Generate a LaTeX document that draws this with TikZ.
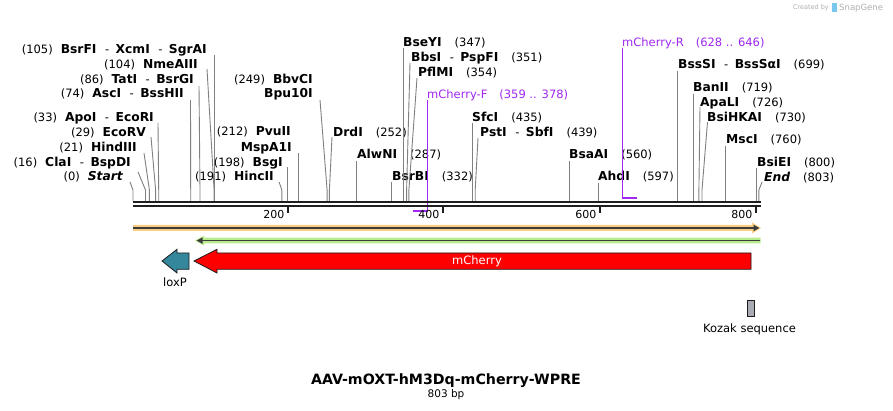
\documentclass[tikz,border=0pt]{standalone}
\usepackage{fontspec}
\setmainfont{DejaVu Sans}
\usetikzlibrary{arrows.meta}
\definecolor{prim}{RGB}{160,40,240}
\definecolor{orangeband}{RGB}{249,205,130}
\definecolor{greenband}{RGB}{185,236,140}
\definecolor{darkline}{RGB}{60,60,60}
\definecolor{loxteal}{RGB}{53,135,156}
\definecolor{kozakgray}{RGB}{168,172,178}
\definecolor{cutgray}{RGB}{128,128,128}
\definecolor{rulerblack}{RGB}{30,30,30}
\definecolor{credit}{RGB}{175,175,175}
\definecolor{logoblue}{RGB}{120,200,240}
\newcommand\myB[1]{{\fontsize{12.3}{13}\selectfont\bfseries #1}}
\newcommand\myBI[1]{{\fontsize{12.3}{13}\selectfont\bfseries\itshape #1}}
\newcommand\gapN{\hspace{8pt}}
\newcommand\gapR{\hspace{13pt}}
\newcommand\gapH{\hspace{8.5pt}-\hspace{6.5pt}}
% #1 id, #2 anchor, #3 x, #4 y centre, #5 text, #6 start x, #7 start y, #8 site x
\newcommand\myEnz[8]{%
  \node[lab,anchor=#2] (#1) at (#3,#4+4.4) {#5};
  \coordinate (#1a) at (#6,#7);
  \coordinate (#1b) at (#8,190);
  \coordinate (#1c) at (#8,201);
  \draw[cut] (#1a) -- (#1b) -- (#1c);
}
\begin{document}
\begin{tikzpicture}[x=1pt,y=-1pt,
  lab/.style={inner sep=0pt,font=\fontsize{11.5}{13}\selectfont,text=black},
  cut/.style={draw=cutgray,line width=0.9pt},
  ruler/.style={draw=rulerblack,line width=2.3pt},
  tick/.style={draw=rulerblack,line width=1.6pt},
  ticklab/.style={inner sep=0pt,anchor=east,font=\fontsize{11}{13}\selectfont},
  primline/.style={draw=prim,line width=1.2pt},
  primbar/.style={draw=prim,line width=2.2pt},
  featline/.style={draw=darkline,line width=1.6pt,-{Triangle[length=6pt,width=6pt]}},
  featlab/.style={inner sep=0pt,font=\fontsize{11.5}{13}\selectfont},
]
\useasboundingbox[fill=white] (0,0) rectangle (893,411);

% credit
\node[inner sep=0pt,anchor=east,text=credit,font=\fontsize{6.5}{7}\selectfont] (cr1) at (829,8) {Created by};
\fill[logoblue] (832,3.5) rectangle (836.5,12.5);
\node[inner sep=0pt,anchor=west,text=credit,font=\fontsize{8.5}{9}\selectfont] (cr2) at (839,8) {SnapGene};

% left-side enzyme labels
\myEnz{eStart}{base east}{123}{176}{(0)\gapN\myBI{Start}}{130}{182}{133}
\myEnz{eCla}{base east}{131}{162}{(16)\gapN\myB{ClaI}\gapH\myB{BspDI}}{138}{172}{145.5}
\myEnz{eHind}{base east}{137}{147}{(21)\gapN\myB{HindIII}}{144}{153}{149.4}
\myEnz{eEcoRV}{base east}{146}{132}{(29)\gapN\myB{EcoRV}}{151}{137}{155.6}
\myEnz{eApo}{base east}{154}{117}{(33)\gapN\myB{ApoI}\gapH\myB{EcoRI}}{158}{123}{158.7}
\myEnz{eAsc}{base east}{184}{93}{(74)\gapN\myB{AscI}\gapH\myB{BssHII}}{190.5}{100}{190.7}
\myEnz{eTat}{base east}{194}{79}{(86)\gapN\myB{TatI}\gapH\myB{BsrGI}}{199}{86}{200}
\myEnz{eNme}{base east}{198}{64}{(104)\gapN\myB{NmeAIII}}{207}{69}{214.1}
\myEnz{eBsrF}{base east}{207}{49}{(105)\gapN\myB{BsrFI}\gapH\myB{XcmI}\gapH\myB{SgrAI}}{214.8}{55}{214.8}
\myEnz{eHinc}{base east}{274}{176}{(191)\gapN\myB{HincII}}{279}{182}{281.9}
\myEnz{eBsg}{base east}{283}{162}{(198)\gapN\myB{BsgI}}{287.3}{167}{287.3}
\node[lab,anchor=base east] (ePvu) at (291,131+4.4) {(212)\gapN\myB{PvuII}};
\myEnz{eMsp}{base east}{292}{147}{\myB{MspA1I}}{298.3}{153}{298.3}
\node[lab,anchor=base east] (eBbv) at (313,79+4.4) {(249)\gapN\myB{BbvCI}};
\myEnz{eBpu}{base east}{313}{93}{\myB{Bpu10I}}{320}{100}{327.1}

% right-side enzyme labels
\myEnz{eDrd}{base west}{333}{132}{\myB{DrdI}\gapR(252)}{332}{137}{329.4}
\myEnz{eAlw}{base west}{357}{154}{\myB{AlwNI}\gapR(287)}{356.7}{161}{356.7}
\myEnz{eBsrB}{base west}{392}{176}{\myB{BsrBI}\gapR(332)}{391.8}{182}{391.8}
\myEnz{eBseY}{base west}{403}{42}{\myB{BseYI}\gapR(347)}{403.5}{48}{403.5}
\myEnz{eBbs}{base west}{411}{57}{\myB{BbsI}\gapH\myB{PspFI}\gapR(351)}{410}{63}{406.6}
\myEnz{ePfl}{base west}{418}{72}{\myB{PflMI}\gapR(354)}{417}{78}{408.9}
\myEnz{eSfc}{base west}{472}{117}{\myB{SfcI}\gapR(435)}{472.1}{123}{472.1}
\myEnz{ePst}{base west}{480}{132}{\myB{PstI}\gapH\myB{SbfI}\gapR(439)}{478}{138}{475.2}
\myEnz{eBsaA}{base west}{569}{154}{\myB{BsaAI}\gapR(560)}{569.5}{161}{569.5}
\myEnz{eAhd}{base west}{598}{176}{\myB{AhdI}\gapR(597)}{598.4}{183}{598.4}
\myEnz{eBssS}{base west}{678}{64}{\myB{BssSI}\gapH\myB{BssSαI}\gapR(699)}{677.9}{71}{677.9}
\myEnz{eBan}{base west}{693}{87}{\myB{BanII}\gapR(719)}{693.5}{94}{693.5}
\myEnz{eApa}{base west}{700}{102}{\myB{ApaLI}\gapR(726)}{700}{107}{698.9}
\myEnz{eBsiHK}{base west}{707}{117}{\myB{BsiHKAI}\gapR(730)}{707.5}{122}{702}
\myEnz{eMsc}{base west}{726}{139}{\myB{MscI}\gapR(760)}{725.4}{146}{725.4}
\myEnz{eBsiE}{base west}{757}{162}{\myB{BsiEI}\gapR(800)}{756.6}{168}{756.6}
\myEnz{eEnd}{base west}{764}{177}{\myBI{End}\gapR(803)}{762}{182}{758.9}

% primers
\node[lab,anchor=base west,text=prim] (pF) at (427,94+4.4) {mCherry-F\hspace{12pt}(359 .. 378)};
\coordinate (pFa) at (427.7,100);
\coordinate (pFb) at (427.7,211);
\coordinate (pFc) at (412.9,211);
\draw[primline] (pFa) -- (pFb);
\draw[primbar] (pFc) -- ([xshift=0.6pt]pFb);
\node[lab,anchor=base west,text=prim] (pR) at (622,42+4.4) {mCherry-R\hspace{12pt}(628 .. 646)};
\coordinate (pRa) at (622.5,48);
\coordinate (pRb) at (622.5,198);
\coordinate (pRc) at (636.6,198);
\draw[primline] (pRa) -- (pRb);
\draw[primbar] ([xshift=-0.6pt]pRb) -- (pRc);

% ruler
\coordinate (rA1) at (133,202.2);
\coordinate (rB1) at (760.5,202.2);
\coordinate (rA2) at (133,206.3);
\coordinate (rB2) at (760.5,206.3);
\draw[ruler] (rA1) -- (rB1);
\draw[ruler] (rA2) -- (rB2);
\foreach \t/\x in {200/288,400/443,600/600,800/756}{
  \coordinate (t\t a) at (\x,206);
  \coordinate (t\t b) at (\x,213.5);
  \draw[tick] (t\t a) -- (t\t b);
  \node[ticklab] (tl\t) at (\x-3.5,214.5) {\t};
}

% orange feature (full length, forward)
\fill[orangeband] (133,225) -- (752,225) -- (752,222.5) -- (761,228) -- (752,233.5) -- (752,231) -- (133,231) -- cycle;
\coordinate (oA) at (133,228);
\coordinate (oB) at (759.5,228);
\draw[featline] (oA) -- (oB);

% green feature (reverse)
\fill[greenband] (760.7,237.7) -- (204,237.7) -- (204,235.7) -- (195,240.6) -- (204,245.5) -- (204,243.5) -- (760.7,243.5) -- cycle;
\coordinate (gA) at (760,240.6);
\coordinate (gB) at (196.5,240.6);
\draw[featline] (gA) -- (gB);

% mCherry arrow
\filldraw[fill=red,draw=rulerblack,line width=0.8pt] (194,261) -- (217,249.3) -- (217,253) -- (751,253) -- (751,269.3) -- (217,269.3) -- (217,273) -- cycle;
\node[featlab,text=white] (mch) at (477,261) {mCherry};

% loxP arrow
\filldraw[fill=loxteal,draw=rulerblack,line width=0.8pt] (162,261) -- (177,249.3) -- (177,253) -- (189,253) -- (189,269.3) -- (177,269.3) -- (177,273) -- cycle;
\node[featlab] (lox) at (175,282) {loxP};

% Kozak
\filldraw[fill=kozakgray,draw=rulerblack,line width=0.8pt] (747,300) rectangle (754.7,316);
\node[featlab] (koz) at (749.5,329) {Kozak sequence};

% title
\node[inner sep=0pt,font=\bfseries\fontsize{14.2}{16}\selectfont] (title) at (446,380.5) {AAV-mOXT-hM3Dq-mCherry-WPRE};
\node[inner sep=0pt,font=\fontsize{10.5}{12}\selectfont] (bp) at (446,394.5) {803 bp};
\end{tikzpicture}
\end{document}
